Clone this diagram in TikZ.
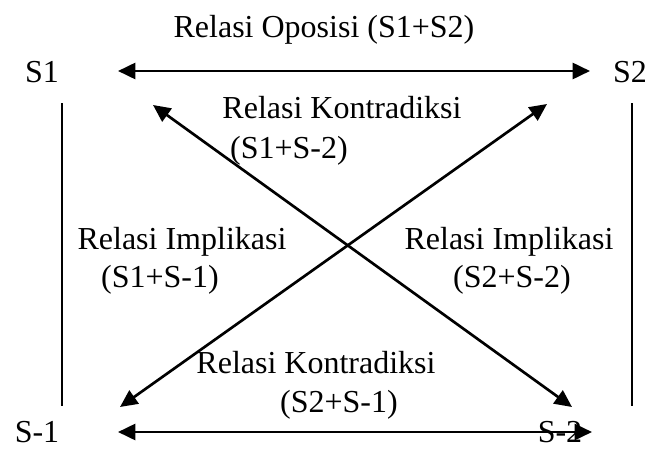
\documentclass[tikz,border=0pt]{standalone}
\usepackage{fontspec}
\setmainfont{Liberation Serif}
\usepackage{tikz}
\usetikzlibrary{arrows.meta}

\begin{document}
\begin{tikzpicture}[
x=0.75pt,y=-0.75pt,
lbl/.style={inner sep=0pt,font=\fontsize{24}{28}\selectfont},
darr/.style={{Triangle[length=13pt,width=12pt]}-{Triangle[length=13pt,width=12pt]},line width=2pt},
side/.style={line width=1.1pt}
]
\useasboundingbox (0,0) rectangle (656,464);
% corner labels
\node[lbl] (s1) at (42,72) {S1};
\node[lbl] (s2) at (630,72) {S2};
\node[lbl] (sm1) at (37,432) {S-1};
\node[lbl] (sm2) at (560,432) {S-2};
% relation labels
\node[lbl] (opo) at (324,30) {Relasi Oposisi (S1+S2)};
\node[lbl] (kon1) at (342,108) {Relasi Kontradiksi};
\node[lbl] (kon1b) at (289,151) {(S1+S-2)};
\node[lbl] (imp1) at (182,242) {Relasi Implikasi};
\node[lbl] (imp1b) at (160,280) {(S1+S-1)};
\node[lbl] (imp2) at (509,242) {Relasi Implikasi};
\node[lbl] (imp2b) at (512,280) {(S2+S-2)};
\node[lbl] (kon2) at (316,363) {Relasi Kontradiksi};
\node[lbl] (kon2b) at (339,405) {(S2+S-1)};
% arrow ends
\coordinate (ta) at (118,71);
\coordinate (tb) at (590,71);
\coordinate (ba) at (118,432);
\coordinate (bb) at (592,432);
\coordinate (d1a) at (153,105);
\coordinate (d1b) at (572,407);
\coordinate (d2a) at (120,407);
\coordinate (d2b) at (547,104);
\coordinate (la) at (62,103);
\coordinate (lb) at (62,406);
\coordinate (ra) at (632,103);
\coordinate (rb) at (632,406);
\draw[darr] (ta)--(tb);
\draw[darr] (ba)--(bb);
\draw[darr] (d1a)--(d1b);
\draw[darr] (d2a)--(d2b);
\draw[side] (la)--(lb);
\draw[side] (ra)--(rb);
\end{tikzpicture}
\end{document}
